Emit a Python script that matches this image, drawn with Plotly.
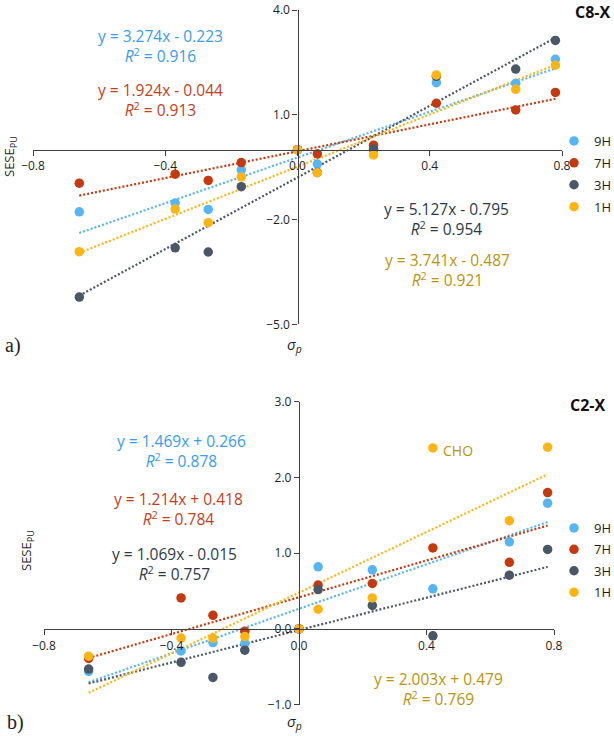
import numpy as np
import plotly.graph_objects as go

W, H = 614, 737

# ---------------- data ----------------
sigma_p = [-0.66, -0.37, -0.27, -0.17, 0.0, 0.06, 0.23, 0.42, 0.66, 0.78]
series_names = ["9H", "7H", "3H", "1H"]

# C8-X panel (a)
c8_9H = [-1.78, -1.53, -1.71, -0.58, 0.0, -0.41, -0.01, 1.92, 1.90, 2.59]
c8_7H = [-0.96, -0.70, -0.88, -0.37, 0.0, -0.12, 0.13, 1.33, 1.14, 1.64]
c8_3H = [-4.22, -2.81, -2.93, -1.06, 0.0, -0.65, 0.02, 2.10, 2.31, 3.13]
c8_1H = [-2.92, -1.70, -2.09, -0.78, 0.0, -0.66, -0.15, 2.14, 1.73, 2.42]
c8_slopes = [3.274, 1.924, 5.127, 3.741]
c8_intercepts = [-0.223, -0.044, -0.795, -0.487]
c8_r2 = [0.916, 0.913, 0.954, 0.921]
c8_yticks = [-5, -2, 1, 4]

# C2-X panel (b)
c2_9H = [-0.56, -0.29, -0.18, -0.19, 0.0, 0.82, 0.78, 0.53, 1.15, 1.66]
c2_7H = [-0.39, 0.41, 0.18, -0.03, 0.0, 0.58, 0.60, 1.07, 0.88, 1.80]
c2_3H = [-0.53, -0.44, -0.64, -0.28, 0.0, 0.52, 0.31, -0.09, 0.71, 1.05]
c2_1H = [-0.36, -0.12, -0.12, -0.10, 0.0, 0.26, 0.41, 2.39, 1.43, 2.40]
c2_slopes = [1.469, 1.214, 1.069, 2.003]
c2_intercepts = [0.266, 0.418, -0.015, 0.479]
c2_r2 = [0.878, 0.784, 0.757, 0.769]
c2_yticks = [-1, 0, 1, 2, 3]

xticks = [-0.8, -0.4, 0.0, 0.4, 0.8]

# ---------------- styles ----------------
marker_colors = ["#58B5F4", "#C4390E", "#4A5766", "#FDB515"]
text_colors = ["#3A9BF0", "#C43E1C", "#2C3A48", "#B8950E"]
FONT = "Open Sans"
AXIS_COLOR = "#3F3F3F"


def px(p):
    return p / W


def py(p):
    return 1 - p / H


fig = go.Figure()

panels = [
    dict(xa="x", ya="y", legend="legend",
         data=[c8_9H, c8_7H, c8_3H, c8_1H],
         slopes=c8_slopes, intercepts=c8_intercepts),
    dict(xa="x2", ya="y2", legend="legend2",
         data=[c2_9H, c2_7H, c2_3H, c2_1H],
         slopes=c2_slopes, intercepts=c2_intercepts),
]

xs = np.array(sigma_p)
x_fit = np.array([xs.min(), xs.max()])
for pn in panels:
    # trend lines
    for i, name in enumerate(series_names):
        fig.add_trace(go.Scatter(
            x=x_fit, y=pn["slopes"][i] * x_fit + pn["intercepts"][i],
            mode="lines", xaxis=pn["xa"], yaxis=pn["ya"],
            line=dict(color=marker_colors[i], width=2.2, dash="2px,2px"),
            showlegend=False, hoverinfo="skip"))
    # points
    for i, name in enumerate(series_names):
        fig.add_trace(go.Scatter(
            x=sigma_p, y=pn["data"][i], mode="markers", name=name,
            xaxis=pn["xa"], yaxis=pn["ya"], legend=pn["legend"],
            legendgroup=pn["legend"] + name,
            marker=dict(color=marker_colors[i], size=9.5),
            cliponaxis=False))

axis_common = dict(showgrid=False, zeroline=False, showline=True,
                   linecolor=AXIS_COLOR, linewidth=1.3, ticks="outside",
                   ticklen=5, tickwidth=1.2, tickcolor=AXIS_COLOR,
                   tickfont=dict(family=FONT, size=12, color="#1E1E1E"),
                   anchor="free", tickformat=".1f", automargin=False)

top_xdom = [px(33), px(562)]
top_ydom = [py(324.3), py(10)]
bot_xdom = [px(44), px(554)]
bot_ydom = [py(704.7), py(401.7)]

fig.update_layout(
    width=W, height=H,
    margin=dict(l=0, r=0, t=0, b=0, pad=0, autoexpand=False),
    paper_bgcolor="white", plot_bgcolor="white",
    font=dict(family=FONT),
    xaxis=dict(axis_common, domain=top_xdom, range=[-0.8, 0.8],
               tickvals=xticks, position=py(149.7)),
    yaxis=dict(axis_common, domain=top_ydom, range=[-5, 4],
               tickvals=c8_yticks, position=(top_xdom[0] + top_xdom[1]) / 2),
    xaxis2=dict(axis_common, domain=bot_xdom, range=[-0.8, 0.8],
                tickvals=xticks, position=py(629)),
    yaxis2=dict(axis_common, domain=bot_ydom, range=[-1, 3],
                tickvals=c2_yticks, position=(bot_xdom[0] + bot_xdom[1]) / 2),
    legend=dict(x=px(554), y=py(126), xanchor="left", yanchor="top",
                font=dict(family=FONT, size=13, color="#1E1E1E"),
                tracegroupgap=2, bgcolor="rgba(0,0,0,0)", itemwidth=30),
    legend2=dict(x=px(554), y=py(513), xanchor="left", yanchor="top",
                 font=dict(family=FONT, size=13, color="#1E1E1E"),
                 tracegroupgap=1.5, bgcolor="rgba(0,0,0,0)", itemwidth=30),
)

ann = []


def add_text(text, x, y, color="#1E1E1E", size=15.5, xanchor="center", **kw):
    ann.append(dict(text=text, x=px(x), y=py(y), xref="paper", yref="paper",
                    xanchor=xanchor, yanchor="middle", showarrow=False,
                    font=dict(family=kw.pop("family", FONT), size=size, color=color),
                    **kw))


def eq_text(m, b, r2):
    sign = "+" if b >= 0 else "-"
    return f"y = {m:.3f}x {sign} {abs(b):.3f}<br><i>R</i><sup>2</sup> = {r2:.3f}"


# equation positions (pixel centres of first line)
c8_eq_pos = [(160, 36), (160, 90), (446, 208), (447, 259)]
c2_eq_pos = [(181, 440), (178, 498), (174, 553), (438, 678)]
for slopes, intercepts, r2s, pos in [(c8_slopes, c8_intercepts, c8_r2, c8_eq_pos),
                                     (c2_slopes, c2_intercepts, c2_r2, c2_eq_pos)]:
    for i in range(4):
        x0, y0 = pos[i]
        add_text(eq_text(slopes[i], intercepts[i], r2s[i]), x0, y0 + 10.5,
                 color=text_colors[i], borderpad=0)

# titles
add_text("<b>C8-X</b>", 612, 12, size=16, xanchor="right", color="#111111")
add_text("<b>C2-X</b>", 607, 405, size=16, xanchor="right", color="#111111")
# CHO label
add_text("CHO", 441, 450, size=14, xanchor="left", color=text_colors[3])
# axis titles
add_text("SESE<sub>PU</sub>", 10, 157, size=13, textangle=-90)
add_text("SESE<sub>PU</sub>", 27, 551, size=13, textangle=-90)
add_text("<i>σ<sub>p</sub></i>", 294, 345, size=15)
add_text("<i>σ<sub>p</sub></i>", 294, 722, size=15)
# panel labels
add_text("a)", 3, 345, size=20, xanchor="left", family="Liberation Serif")
add_text("b)", 5, 722, size=20, xanchor="left", family="Liberation Serif")

fig.update_layout(annotations=ann)

fig.write_html(
    "out.html",
    config={"displayModeBar": False},
    post_script="document.body.style.margin='0';document.body.style.overflow='hidden';",
)
